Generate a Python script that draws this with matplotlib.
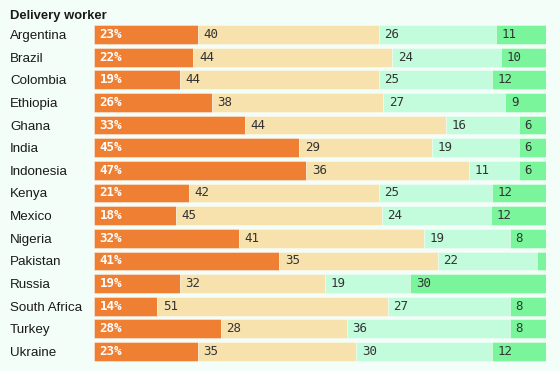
import matplotlib
matplotlib.use("Agg")
import matplotlib.pyplot as plt
import matplotlib.transforms as mtransforms
import numpy as np

# ---------- データ ----------
countries = ["Argentina", "Brazil", "Colombia", "Ethiopia", "Ghana", "India",
             "Indonesia", "Kenya", "Mexico", "Nigeria", "Pakistan", "Russia",
             "South Africa", "Turkey", "Ukraine"]
seg1 = [23, 22, 19, 26, 33, 45, 47, 21, 18, 32, 41, 19, 14, 28, 23]
seg2 = [40, 44, 44, 38, 44, 29, 36, 42, 45, 41, 35, 32, 51, 28, 35]
seg3 = [26, 24, 25, 27, 16, 19, 11, 25, 24, 19, 22, 19, 27, 36, 30]
seg4 = [11, 10, 12, 9, 6, 6, 6, 12, 12, 8, 2, 30, 8, 8, 12]
title = "Delivery worker"
# ----------------------------

colors = ["#ee7f33", "#f7e1ad", "#c3fcdd", "#7af59b"]
bg = "#f3fef8"

W, H = 560, 371
fig = plt.figure(figsize=(W / 100, H / 100), dpi=100, facecolor=bg)
ax = fig.add_axes([94 / W, 1 - 362.8 / H, 452 / W, (362.8 - 23.2) / H])
ax.set_facecolor(bg)

data = np.array([seg1, seg2, seg3, seg4], dtype=float)
totals = data.sum(axis=0)
norm = data / totals * 100
y = np.arange(len(countries))

left = np.zeros(len(countries))
for k in range(4):
    ax.barh(y, norm[k], left=left, height=0.83, color=colors[k],
            edgecolor=(1, 1, 1, 0.45), linewidth=0.6)
    for i in range(len(countries)):
        v = data[k, i]
        if k == 3 and v < 4:
            continue
        if k == 0:
            txt, col, fw = f"{int(v)}%", "white", "bold"
        else:
            txt, col, fw = f"{int(v)}", "#333333", "normal"
        ax.annotate(txt, (left[i], y[i]), xytext=(4, 0), textcoords="offset points",
                    ha="left", va="center", color=col, fontsize=9,
                    fontweight=fw, family="DejaVu Sans Mono")
    left += norm[k]

ax.set_xlim(0, 100)
ax.set_ylim(len(countries) - 0.5, -0.5)
ax.axis("off")

trans = mtransforms.blended_transform_factory(fig.transFigure, ax.transData)
for i, c in enumerate(countries):
    ax.text(10 / W, y[i], c, transform=trans, ha="left", va="center_baseline",
            fontsize=9.6, color="#1a1a1a", family="Liberation Sans")

fig.text(10 / W, 1 - 18.7 / H, title, ha="left", va="baseline",
         fontsize=9.4, fontweight="bold", color="#1a1a1a", family="Liberation Sans")

fig.savefig("out.png", dpi=100, facecolor=bg)
